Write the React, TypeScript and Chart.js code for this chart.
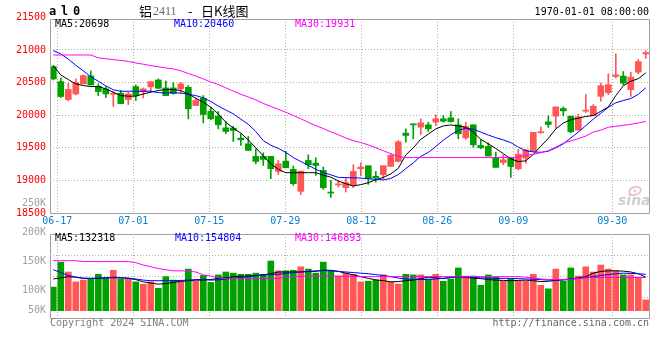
import React, { useEffect, useRef } from "react";
import { Chart, registerables } from "chart.js";

Chart.register(...registerables);

// ---------- data ----------
const TICK_POS = [0.53, 10.67, 20.8, 30.93, 41.07, 51.2, 61.33, 74.53];
const TICK_LABELS = ["06-17", "07-01", "07-15", "07-29", "08-12", "08-26", "09-09", "09-30"];
const PRICE_TICKS = [18500, 19000, 19500, 20000, 20500, 21000, 21500];
const VOL_TICKS = [50000, 100000, 150000, 200000, 250000];
const VOL_TICK_LABELS = ["50K", "100K", "150K", "200K", "250K"];

const OPEN = [
  20745, 20515, 20240, 20326, 20480, 20602, 20444, 20403, 20320, 20337,
  20240, 20438, 20362, 20434, 20540, 20418, 20418, 20403, 20428, 20148,
  20260, 20061, 19985, 19806, 19801, 19648, 19561, 19368, 19368, 19368,
  19138, 19296, 19169, 18832, 19306, 19265, 19153, 18812, 18930, 18888,
  18924, 19179, 19225, 19062, 19087, 19215, 19291, 19725, 19857, 19817,
  19852, 19893, 19944, 19959, 19852, 19653, 19852, 19536, 19521, 19347,
  19274, 19350, 19178, 19340, 19452, 19731, 19898, 19985, 20102, 19985,
  19772, 20061, 19990, 20289, 20345, 20594, 20599, 20391, 20660, 20939,
];
const CLOSE = [
  20556, 20286, 20395, 20500, 20607, 20464, 20362, 20326, 20330, 20178,
  20326, 20300, 20403, 20515, 20413, 20300, 20337, 20480, 20097, 20225,
  20010, 19944, 19852, 19750, 19766, 19623, 19460, 19291, 19322, 19179,
  19255, 19194, 18950, 19143, 19240, 19230, 18888, 18806, 18940, 18965,
  19138, 19204, 19026, 19036, 19225, 19383, 19592, 19689, 19852, 19883,
  19791, 19944, 19908, 19903, 19715, 19827, 19546, 19500, 19373, 19199,
  19315, 19213, 19401, 19467, 19736, 19746, 19858, 20127, 20066, 19746,
  19975, 20076, 20137, 20452, 20467, 20619, 20492, 20584, 20822, 20959,
];
const HIGH = [
  20760, 20571, 20490, 20556, 20617, 20678, 20480, 20440, 20362, 20378,
  20352, 20464, 20418, 20515, 20556, 20525, 20500, 20500, 20454, 20260,
  20301, 20122, 20056, 19903, 19832, 19715, 19674, 19485, 19424, 19368,
  19306, 19444, 19220, 19143, 19393, 19347, 19204, 19000, 19000, 19036,
  19240, 19271, 19225, 19138, 19225, 19408, 19613, 19791, 19868, 19944,
  19893, 20005, 19995, 20056, 19944, 19893, 19852, 19623, 19577, 19434,
  19391, 19350, 19477, 19477, 19736, 19822, 19990, 20127, 20127, 19985,
  20015, 20315, 20163, 20492, 20635, 20939, 20670, 20660, 20853, 20990,
];
const LOW = [
  20540, 20270, 20220, 20311, 20480, 20460, 20300, 20270, 20133, 20178,
  20163, 20225, 20265, 20362, 20403, 20300, 20321, 20326, 19944, 20148,
  19883, 19929, 19791, 19715, 19597, 19536, 19460, 19255, 19230, 19026,
  19092, 19194, 18924, 18781, 19179, 19077, 18863, 18740, 18898, 18822,
  18888, 19067, 18939, 18975, 19026, 19215, 19281, 19587, 19638, 19704,
  19750, 19842, 19893, 19893, 19638, 19628, 19510, 19485, 19373, 19199,
  19239, 19046, 19162, 19264, 19442, 19721, 19812, 19797, 19990, 19731,
  19772, 20041, 19990, 20213, 20315, 20569, 20467, 20289, 20635, 20873,
];
const MA5 = [
  20760, 20617, 20546, 20480, 20454, 20439, 20439, 20403, 20352, 20301,
  20291, 20291, 20326, 20352, 20378, 20393, 20393, 20378, 20326, 20260,
  20199, 20122, 20020, 19893, 19801, 19725, 19620, 19500, 19373, 19255,
  19170, 19118, 19118, 19118, 19118, 19118, 19080, 19050, 18990, 18950,
  18914, 18935, 18965, 19010, 19045, 19100, 19186, 19390, 19500, 19630,
  19710, 19790, 19835, 19850, 19835, 19815, 19740, 19630, 19560, 19490,
  19410, 19330, 19289, 19300, 19400, 19525, 19645, 19790, 19880, 19930,
  19955, 19980, 19995, 20060, 20127, 20300, 20450, 20520, 20560, 20650,
];
const MA10 = [
  20990, 20940, 20860, 20765, 20680, 20590, 20520, 20450, 20390, 20367,
  20367, 20367, 20367, 20367, 20345, 20342, 20342, 20340, 20320, 20300,
  20265, 20210, 20140, 20080, 20020, 19940, 19860, 19750, 19610, 19540,
  19490, 19430, 19350, 19290, 19230, 19170, 19120, 19085, 19047, 19042,
  19040, 19035, 19025, 19015, 19008, 19030, 19090, 19180, 19270, 19370,
  19430, 19520, 19615, 19700, 19765, 19800, 19785, 19740, 19695, 19655,
  19620, 19580, 19510, 19455, 19437, 19431, 19447, 19500, 19560, 19650,
  19740, 19840, 19940, 20030, 20120, 20190, 20225, 20255, 20320, 20420,
];
const MA30 = [
  20923, 20923, 20923, 20923, 20923, 20923, 20880, 20865, 20852, 20840,
  20825, 20800, 20782, 20760, 20742, 20725, 20710, 20680, 20640, 20600,
  20555, 20510, 20470, 20420, 20370, 20320, 20280, 20235, 20180, 20135,
  20090, 20045, 19995, 19945, 19890, 19840, 19795, 19745, 19700, 19650,
  19610, 19580, 19545, 19500, 19455, 19410, 19365, 19350, 19350, 19350,
  19350, 19350, 19350, 19350, 19350, 19350, 19350, 19350, 19350, 19350,
  19350, 19350, 19360, 19385, 19400, 19425, 19455, 19510, 19570, 19605,
  19640, 19680, 19740, 19770, 19815, 19830, 19845, 19860, 19880, 19905,
];
const VOL = [
  105000, 148000, 131000, 114000, 117000, 120000, 127000, 120000, 134000, 119000,
  119000, 114000, 110000, 114000, 103000, 123000, 117000, 115000, 136000, 115000,
  125000, 113000, 126000, 131000, 129000, 127000, 127000, 129000, 127000, 150000,
  133000, 133000, 134000, 140000, 136000, 129000, 148000, 133000, 124000, 129000,
  127000, 114000, 115000, 117000, 126000, 114000, 110000, 127000, 126000, 126000,
  119000, 127000, 115000, 119000, 138000, 124000, 124000, 108000, 126000, 122000,
  115000, 119000, 115000, 115000, 127000, 108000, 102000, 136000, 115000, 138000,
  124000, 140000, 131000, 143000, 136000, 133000, 126000, 126000, 122000, 83000,
];
const VOL_MA5 = [
  119000, 121000, 123000, 122000, 120000, 120000, 120000, 121000, 122000, 121000,
  120000, 118000, 114000, 112000, 110000, 111000, 113000, 115000, 116000, 117000,
  117000, 118000, 120000, 121000, 123000, 123500, 124000, 125000, 126000, 128000,
  131000, 131000, 131000, 131000, 132000, 132000, 134000, 134000, 132000, 129000,
  126000, 123000, 120000, 117500, 116000, 114000, 114500, 116000, 117000, 119500,
  122000, 121000, 120000, 121500, 123000, 121500, 120500, 119500, 118000, 117000,
  116500, 116000, 116500, 117000, 116000, 114500, 115000, 116500, 118000, 119000,
  121000, 123000, 129000, 132000, 133000, 133000, 132500, 131000, 128000, 122000,
];
const VOL_MA10 = [
  135000, 130000, 125000, 122000, 120500, 120000, 120500, 121000, 121000, 121000,
  120500, 119000, 117000, 116000, 116000, 116000, 116000, 116500, 117000, 118000,
  118000, 117000, 117500, 119000, 120000, 121500, 123000, 124500, 126000, 126500,
  127000, 128500, 130000, 131000, 132000, 133000, 133500, 133000, 132000, 131000,
  130000, 129000, 128000, 126500, 125000, 123000, 120500, 119000, 118000, 118000,
  118000, 119000, 120000, 121500, 123000, 122500, 121500, 121000, 120500, 120000,
  120000, 120000, 119500, 119000, 118500, 118000, 117000, 117000, 117000, 118500,
  120000, 121500, 123000, 125000, 126500, 128000, 129000, 128500, 128000, 127000,
];
const VOL_MA30 = [
  150500, 150500, 150500, 150500, 149000, 149000, 149000, 149000, 149000, 149000,
  149000, 147000, 143000, 140000, 137000, 135000, 133000, 133000, 132500, 131000,
  126000, 124000, 121000, 120000, 120000, 120000, 120000, 120000, 120000, 120000,
  120000, 122000, 123000, 123500, 124000, 124000, 124000, 124000, 123500, 123500,
  123500, 123000, 123000, 123000, 123000, 123000, 123000, 123000, 123000, 123000,
  123000, 123000, 123000, 123000, 123000, 123000, 123000, 123000, 123000, 123000,
  123000, 123000, 123000, 122000, 121000, 119000, 118000, 118000, 118000, 118500,
  120000, 121000, 121500, 121500, 121500, 121500, 121500, 121500, 121500, 121500,
];

// ---------- styling ----------
const MONO = '"DejaVu Sans Mono", "Liberation Mono", monospace';
const CJK = '"Noto Sans CJK SC", sans-serif';
const UP = "#ff5656";
const DOWN = "#00a000";
const GRID = "#b0b0b0";
const FRAME = "#a0a0a0";
const X_MIN = -0.44;
const X_MAX = 79.56;
const PRICE_MIN = 18500;
const PRICE_MAX = 21475;
const VOL_MIN = 51700;
const VOL_MAX = 196500;
const VOL_BASE = 64300;

const colorOf = (i: number) => (CLOSE[i] >= OPEN[i] ? UP : DOWN);

function frame(ctx: CanvasRenderingContext2D, a: any) {
  ctx.strokeStyle = FRAME;
  ctx.lineWidth = 1;
  ctx.setLineDash([]);
  ctx.beginPath();
  ctx.moveTo(a.left + 0.5, a.top + 0.5);
  ctx.lineTo(a.right - 0.5, a.top + 0.5);
  ctx.lineTo(a.right - 0.5, a.bottom + 0.5);
  ctx.lineTo(a.left + 0.5, a.bottom + 0.5);
  ctx.closePath();
  ctx.stroke();
}

const mainDecor = {
  id: "mainDecor",
  beforeDatasetsDraw(chart: any) {
    const ctx = chart.ctx as CanvasRenderingContext2D;
    const a = chart.chartArea;
    ctx.save();
    // sina watermark
    ctx.strokeStyle = "#f3c4c4";
    ctx.lineWidth = 2;
    ctx.beginPath();
    ctx.ellipse(a.right - 15, a.bottom - 22, 6, 4, -0.3, 0, Math.PI * 2);
    ctx.stroke();
    ctx.fillStyle = "#f3c4c4";
    ctx.beginPath();
    ctx.arc(a.right - 15, a.bottom - 22, 1.6, 0, Math.PI * 2);
    ctx.fill();
    ctx.fillStyle = "#cfcfcf";
    ctx.font = "italic bold 14px " + '"DejaVu Sans", sans-serif';
    ctx.textAlign = "left";
    ctx.textBaseline = "alphabetic";
    ctx.fillText("sina", a.right - 32, a.bottom - 8);
    ctx.restore();
  },
  afterDraw(chart: any) {
    const ctx = chart.ctx as CanvasRenderingContext2D;
    const a = chart.chartArea;
    ctx.save();
    frame(ctx, a);
    ctx.textBaseline = "middle";
    // top-left code
    ctx.fillStyle = "#000";
    ctx.font = "bold 12px " + MONO;
    ctx.textAlign = "left";
    ctx.fillText("a", 49, 11.5);
    ctx.fillText("l", 61, 11.5);
    ctx.fillText("0", 73, 11.5);
    // title
    let x = 139;
    ctx.font = "13px " + CJK;
    ctx.fillText("铝", x, 11.5);
    x += ctx.measureText("铝").width + 1;
    ctx.fillStyle = "#666";
    ctx.font = "12px " + '"Liberation Serif", serif';
    ctx.fillText("2411", x, 12);
    ctx.fillStyle = "#000";
    ctx.font = "13px " + CJK;
    ctx.fillText("-", 188, 11.5);
    ctx.fillText("日K线图", 201, 11.5);
    // date
    ctx.font = "10px " + MONO;
    ctx.textAlign = "right";
    ctx.fillText("1970-01-01 08:00:00", 649, 12);
    // MA header
    ctx.textAlign = "left";
    ctx.fillStyle = "#000";
    ctx.fillText("MA5:20698", 55, 24.5);
    ctx.fillStyle = "#0000ff";
    ctx.fillText("MA10:20460", 174, 24.5);
    ctx.fillStyle = "#ff00ff";
    ctx.fillText("MA30:19931", 295, 24.5);
    ctx.restore();
  },
};

const volDecor = {
  id: "volDecor",
  afterDraw(chart: any) {
    const ctx = chart.ctx as CanvasRenderingContext2D;
    const a = chart.chartArea;
    const ys = chart.scales.y;
    ctx.save();
    frame(ctx, a);
    ctx.textBaseline = "middle";
    ctx.font = "10px " + MONO;
    ctx.fillStyle = "#a0a0a0";
    ctx.textAlign = "right";
    VOL_TICKS.forEach((v, k) => {
      const y = Math.min(ys.getPixelForValue(v), a.bottom - 8);
      ctx.fillText(VOL_TICK_LABELS[k], 46, y);
    });
    ctx.textAlign = "left";
    ctx.fillStyle = "#000";
    ctx.fillText("MA5:132318", 55, 238.5);
    ctx.fillStyle = "#0000ff";
    ctx.fillText("MA10:154804", 175, 238.5);
    ctx.fillStyle = "#ff00ff";
    ctx.fillText("MA30:146893", 295, 238.5);
    ctx.fillStyle = "#808080";
    ctx.fillText("Copyright 2024 SINA.COM", 50, 323.5);
    ctx.fillStyle = "#666";
    ctx.textAlign = "right";
    ctx.fillText("http://finance.sina.com.cn", 649, 323.5);
    ctx.restore();
  },
};

const lineDs = (arr: number[], color: string) => ({
  type: "line" as const,
  data: arr.map((v, i) => ({ x: i, y: v })),
  borderColor: color,
  borderWidth: 1,
  pointRadius: 0,
  tension: 0,
  fill: false,
  order: 0,
});

const xScale = (showLabels: boolean, height: number) => ({
  type: "linear" as const,
  min: X_MIN,
  max: X_MAX,
  offset: false,
  afterBuildTicks: (s: any) => {
    s.ticks = TICK_POS.map((v) => ({ value: v }));
  },
  afterFit: (s: any) => {
    s.height = height;
  },
  ticks: {
    display: showLabels,
    autoSkip: false,
    maxRotation: 0,
    minRotation: 0,
    padding: 2.5,
    color: "#0a80d0",
    font: { family: MONO, size: 10 },
    callback: (_v: any, i: number) => TICK_LABELS[i],
  },
  grid: { color: GRID, lineWidth: 1, drawTicks: false, offset: false },
  border: { display: false, dash: [1, 2] },
});

export default function App() {
  const mainRef = useRef<HTMLCanvasElement>(null);
  const volRef = useRef<HTMLCanvasElement>(null);

  useEffect(() => {
    const wick = {
      type: "bar" as const,
      data: HIGH.map((h, i) => ({ x: i, y: [LOW[i], h] })),
      backgroundColor: HIGH.map((_, i) => colorOf(i)),
      barThickness: 1,
      grouped: false,
      borderWidth: 0,
      minBarLength: 1,
      order: 2,
    };
    const body = {
      type: "bar" as const,
      data: OPEN.map((o, i) => ({ x: i, y: [o, CLOSE[i]] })),
      backgroundColor: OPEN.map((_, i) => colorOf(i)),
      barThickness: 6,
      grouped: false,
      borderWidth: 0,
      minBarLength: 1,
      order: 1,
    };
    const main = new Chart(mainRef.current!, {
      type: "bar",
      data: {
        datasets: [
          lineDs(MA30, "#ff00ff"),
          lineDs(MA10, "#0000ff"),
          lineDs(MA5, "#000000"),
          body as any,
          wick as any,
        ],
      },
      options: {
        animation: false,
        responsive: false,
        devicePixelRatio: 1,
        events: [],
        layout: { padding: { left: 0, right: 10, top: 19, bottom: 360 - 213 - 20 }, autoPadding: false } as any,
        plugins: { legend: { display: false }, tooltip: { enabled: false } },
        scales: {
          x: xScale(true, 20) as any,
          y: {
            type: "linear",
            min: PRICE_MIN,
            max: PRICE_MAX,
            beginAtZero: false,
            afterBuildTicks: (s: any) => {
              s.ticks = PRICE_TICKS.map((v) => ({ value: v }));
            },
            afterFit: (s: any) => {
              s.width = 50;
            },
            ticks: {
              autoSkip: false,
              padding: 4,
              color: "#ff0000",
              font: { family: MONO, size: 10 },
              callback: (v: any) => String(v),
            },
            grid: {
              drawTicks: false,
              lineWidth: 1,
              color: (c: any) =>
                c.tick && (c.tick.value > PRICE_MAX || c.tick.value <= PRICE_MIN) ? "rgba(0,0,0,0)" : GRID,
            },
            border: { display: false, dash: [1, 2] },
          } as any,
        },
      },
      plugins: [mainDecor],
    });

    const vol = new Chart(volRef.current!, {
      type: "bar",
      data: {
        datasets: [
          lineDs(VOL_MA30, "#ff00ff"),
          lineDs(VOL_MA10, "#0000ff"),
          lineDs(VOL_MA5, "#000000"),
          {
            type: "bar",
            data: VOL.map((v, i) => ({ x: i, y: v })),
            backgroundColor: VOL.map((_, i) => colorOf(i)),
            barThickness: 6,
            grouped: false,
            borderWidth: 0,
            base: VOL_BASE,
            order: 1,
          } as any,
        ],
      },
      options: {
        animation: false,
        responsive: false,
        devicePixelRatio: 1,
        events: [],
        layout: { padding: { left: 0, right: 10, top: 234, bottom: 42 }, autoPadding: false } as any,
        plugins: { legend: { display: false }, tooltip: { enabled: false } },
        scales: {
          x: xScale(false, 0) as any,
          y: {
            type: "linear",
            min: VOL_MIN,
            max: VOL_MAX,
            beginAtZero: false,
            afterBuildTicks: (s: any) => {
              s.ticks = [1, 2, 3].map((k) => ({ value: VOL_MIN + ((VOL_MAX - VOL_MIN) * k) / 4 }));
            },
            afterFit: (s: any) => {
              s.width = 50;
            },
            ticks: { display: false },
            grid: { drawTicks: false, lineWidth: 1, color: GRID },
            border: { display: false, dash: [1, 2] },
          } as any,
        },
      },
      plugins: [volDecor],
    });

    return () => {
      main.destroy();
      vol.destroy();
    };
  }, []);

  const cs: React.CSSProperties = { position: "absolute", left: 0, top: 0, width: 660, height: 360 };
  return (
    <div style={{ position: "absolute", left: 0, top: 0, width: 660, height: 360, background: "#fff" }}>
      <canvas ref={mainRef} width={660} height={360} style={cs} />
      <canvas ref={volRef} width={660} height={360} style={cs} />
    </div>
  );
}
